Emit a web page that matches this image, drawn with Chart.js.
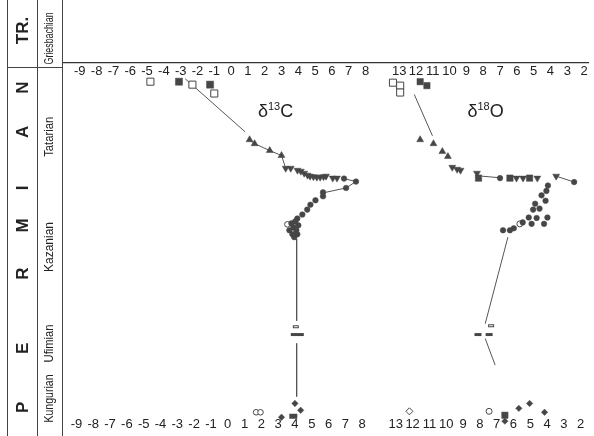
<!DOCTYPE html>
<html lang="en">
<head>
<meta charset="UTF-8">
<title>Permian isotope section</title>
<script src="https://cdn.jsdelivr.net/npm/chart.js"></script>
<style>
    html, body { margin: 0; padding: 0; background: #fff; overflow: hidden; }
    #wrap { width: 594px; height: 436px; }
</style>
</head>
<body>
<div id="wrap"><canvas id="chart"></canvas></div>
<script>
// tick labels of the broken axis: d13C (left part) and d18O (right part, reversed)
var c13Ticks = [-9, -8, -7, -6, -5, -4, -3, -2, -1, 0, 1, 2, 3, 4, 5, 6, 7, 8];
var o18Ticks = [13, 12, 11, 10, 9, 8, 7, 6, 5, 4, 3, 2];

// stratigraphic column (level = position below the top line)
var systemLetters = ['TR.', 'N', 'A', 'I', 'M', 'R', 'E', 'P'];
var systemLevels = [-33, 25, 70, 127, 165, 214, 290, 350];
var stageNames = ['Griesbachian', 'Tatarian', 'Kazanian', 'Ufimian', 'Kungurian'];
var stageLevels = [-25, 75, 187, 285, 341];
var boundaryLevel = 4;

// d13C samples [value, level]
var c13OpenSquare = [[-4.8, 19], [-2.3, 22], [-1.0, 31]];
var c13FilledSquare = [[-3.1, 19], [-1.25, 22]];
var c13Triangle = [[1.1, 78], [1.4, 82], [2.3, 89], [3.0, 94]];
var c13DownTriangle = [[3.25, 107], [3.55, 107], [3.95, 109], [4.15, 110], [4.35, 112], [4.55, 114],
    [4.7, 115], [4.9, 115.5], [5.1, 116], [5.3, 116], [5.5, 115.5], [5.65, 115], [6.05, 117], [6.3, 117]];
var c13Circle = [[6.72, 117.5], [7.43, 120.5], [6.84, 127], [5.47, 131.5], [5.47, 135.5], [5.02, 139.5],
    [4.72, 144], [4.53, 149], [4.24, 154], [3.94, 158], [3.59, 163], [3.82, 161], [4.0, 165], [3.71, 167],
    [3.47, 170], [3.88, 170], [3.65, 174], [3.94, 174], [3.76, 177]];
var c13OpenCircle = [[3.35, 164], [1.49, 355], [1.75, 355]];
var c13OpenBar = [[3.85, 268]];
var c13FilledBar = [[3.94, 276]];
var c13SmallBar = [[3.7, 359]];
var c13Diamond = [[3.8, 346], [4.14, 353], [3.0, 360]];
var c13Lines = [
    [[-2.73, 16], [0.84, 70]],
    [[1.1, 78], [1.4, 82], [2.3, 89], [3.0, 94], [3.25, 107]],
    [[6.72, 117.5], [7.43, 120.5], [6.84, 127], [5.47, 132]],
    [[3.9, 179], [3.9, 262]],
    [[3.9, 285], [3.9, 339]]
];

// d18O samples [value, level]
var o18OpenSquare = [[13.37, 20], [12.94, 23], [12.94, 30]];
var o18FilledSquare = [[11.75, 19], [11.35, 23], [8.28, 117], [6.41, 117], [5.24, 117], [6.71, 358]];
var o18Triangle = [[11.75, 78], [10.96, 82], [10.43, 90], [10.1, 95]];
var o18DownTriangle = [[9.84, 106], [9.55, 108], [9.35, 109], [8.37, 112], [6.02, 117], [5.63, 117],
    [4.78, 117], [3.66, 115]];
var o18Circle = [[7.0, 117], [2.59, 121], [4.15, 124.5], [4.24, 130], [4.53, 134.5], [4.29, 140],
    [4.91, 143], [4.65, 148], [5.03, 149], [5.29, 157], [4.82, 157.5], [4.18, 157], [5.65, 162],
    [5.12, 163.5], [4.38, 163.5], [6.18, 168], [6.82, 170], [6.41, 170]];
var o18OpenCircle = [[5.82, 163.5], [7.65, 354]];
var o18OpenBar = [[7.53, 267]];
var o18FilledBar = [[8.31, 276], [7.65, 276]];
var o18Diamond = [[5.88, 351], [5.24, 346], [4.35, 355], [6.71, 364]];
var o18OpenDiamond = [[12.39, 354]];
var o18Lines = [
    [[12.1, 32], [11.02, 74]],
    [[8.08, 115], [7.1, 116.5]],
    [[3.66, 115], [2.59, 121]],
    [[6.53, 177], [7.88, 265]],
    [[7.88, 280], [7.29, 307]]
];

var ink = '#464646';
var textInk = '#222';
var xMin = -10, xMax = 21.235;

// d18O is drawn right of the break: 13 sits two units after 8
function o18pos(v) { return 23 - v; }

function pts(list, isO) {
    return list.map(function (p) { return {x: isO ? o18pos(p[0]) : p[0], y: p[1]}; });
}

function barImage(w, h, filled) {
    var c = document.createElement('canvas');
    c.width = w + 2; c.height = h + 2;
    var g = c.getContext('2d');
    if (filled) {
        g.fillStyle = ink; g.fillRect(1, 1, w, h);
    } else {
        g.fillStyle = '#fff'; g.fillRect(1, 1, w, h);
        g.strokeStyle = ink; g.lineWidth = 1; g.strokeRect(1.5, 1.5, w - 1, h - 1);
    }
    return c;
}

function marks(list, isO, style, r, open, rot) {
    return {
        data: pts(list, isO),
        pointStyle: style,
        pointRadius: r,
        pointRotation: rot || 0,
        backgroundColor: open ? '#fff' : ink,
        borderColor: ink,
        borderWidth: open ? 1 : 0.5,
        order: 1
    };
}

var openBar = barImage(6, 3, false);
var filledBar = barImage(13, 3, true);
var pairBar = barImage(7, 3, true);
var smallBar = barImage(8, 5, true);

var datasets = [
    marks(c13OpenSquare, false, 'rect', 5, true),
    marks(c13FilledSquare, false, 'rect', 5, false),
    marks(c13Triangle, false, 'triangle', 4, false),
    marks(c13DownTriangle, false, 'triangle', 4, false, 180),
    marks(c13Circle, false, 'circle', 2.8, false),
    marks(c13OpenCircle, false, 'circle', 2.8, true),
    marks(c13OpenBar, false, openBar, 4, true),
    marks(c13FilledBar, false, filledBar, 4, false),
    marks(c13SmallBar, false, smallBar, 4, false),
    marks(c13Diamond, false, 'rectRot', 3.2, false),
    marks(o18OpenSquare, true, 'rect', 5, true),
    marks(o18FilledSquare, true, 'rect', 4.5, false),
    marks(o18Triangle, true, 'triangle', 4, false),
    marks(o18DownTriangle, true, 'triangle', 4, false, 180),
    marks(o18Circle, true, 'circle', 2.8, false),
    marks(o18OpenCircle, true, 'circle', 3, true),
    marks(o18OpenBar, true, openBar, 4, true),
    marks(o18FilledBar, true, pairBar, 4, false),
    marks(o18Diamond, true, 'rectRot', 3.2, false),
    marks(o18OpenDiamond, true, 'rectRot', 3.5, true)
];

c13Lines.forEach(function (line) {
    datasets.push({data: pts(line, false), showLine: true, pointRadius: 0, borderColor: '#555', borderWidth: 1, order: 2});
});
o18Lines.forEach(function (line) {
    datasets.push({data: pts(line, true), showLine: true, pointRadius: 0, borderColor: '#555', borderWidth: 1, order: 2});
});

function setTicks(scale) {
    scale.ticks = c13Ticks.map(function (v) { return {value: v}; })
        .concat(o18Ticks.map(function (v) { return {value: o18pos(v)}; }));
}
function tickLabel(v) { return v > 9 ? String(Math.round(23 - v)) : String(v); }
function noPad(scale) { scale.paddingLeft = 0; scale.paddingRight = 0; }

var tickFont = {family: "'Liberation Sans', Arial, sans-serif", size: 13};

function axis(at, shift, showBorder) {
    return {
        type: 'linear',
        axis: 'x',
        position: {y: at},
        min: xMin + shift,
        max: xMax + shift,
        grid: {display: false, drawTicks: false},
        border: {display: showBorder, color: '#333', width: 1.2},
        ticks: {autoSkip: false, maxRotation: 0, minRotation: 0, padding: 1, color: textInk, font: tickFont, callback: tickLabel},
        afterBuildTicks: setTicks,
        afterFit: noPad
    };
}

function vText(ctx, str, x, y, font, maxLen) {
    ctx.save();
    ctx.translate(x, y);
    ctx.rotate(-Math.PI / 2);
    ctx.font = font;
    var w = ctx.measureText(str).width;
    if (maxLen && w > maxLen) ctx.scale(maxLen / w, 1);
    ctx.textAlign = 'center';
    ctx.textBaseline = 'middle';
    ctx.fillText(str, 0, 0);
    ctx.restore();
}

// stratigraphic column and the two isotope titles
var decor = {
    id: 'decor',
    afterDraw: function (chart) {
        var ctx = chart.ctx, xs = chart.scales.x, ys = chart.scales.y;
        var h = chart.height;
        ctx.save();
        ctx.strokeStyle = '#444';
        ctx.lineWidth = 1;
        [7.5, 37.5, 62.5].forEach(function (x) {
            ctx.beginPath(); ctx.moveTo(x, 0); ctx.lineTo(x, h); ctx.stroke();
        });
        var by = Math.round(ys.getPixelForValue(boundaryLevel)) + 0.5;
        ctx.beginPath(); ctx.moveTo(7.5, by); ctx.lineTo(62.5, by); ctx.stroke();

        ctx.fillStyle = textInk;
        systemLetters.forEach(function (s, i) {
            vText(ctx, s, 23, ys.getPixelForValue(systemLevels[i]), "bold 17px 'Liberation Sans', Arial, sans-serif");
        });
        var stageLen = [52, 40, 50, 38, 48];
        stageNames.forEach(function (s, i) {
            vText(ctx, s, 50, ys.getPixelForValue(stageLevels[i]), "12px 'Liberation Sans', Arial, sans-serif", stageLen[i]);
        });

        var titles = [['13', 'C', 1.6], ['18', 'O', o18pos(8.94)]];
        titles.forEach(function (t) {
            var x = xs.getPixelForValue(t[2]);
            var y = ys.getPixelForValue(55);
            ctx.textAlign = 'left';
            ctx.textBaseline = 'alphabetic';
            ctx.font = "18px 'Liberation Sans', Arial, sans-serif";
            ctx.fillText('\u03b4', x, y);
            x += ctx.measureText('\u03b4').width;
            ctx.font = "11px 'Liberation Sans', Arial, sans-serif";
            ctx.fillText(t[0], x, y - 7);
            x += ctx.measureText(t[0]).width;
            ctx.font = "18px 'Liberation Sans', Arial, sans-serif";
            ctx.fillText(t[1], x, y);
        });
        ctx.restore();
    }
};

new Chart(document.getElementById('chart'), {
    type: 'scatter',
    data: {datasets: datasets},
    options: {
        responsive: true,
        maintainAspectRatio: false,
        animation: false,
        layout: {padding: {left: 63, top: 63, right: 0, bottom: 0}},
        plugins: {legend: {display: false}, tooltip: {enabled: false}},
        scales: {
            y: {type: 'linear', display: false, reverse: true, min: 0, max: 373},
            x: axis(0, 0, true),
            x2: axis(358, 0.2, false)
        }
    },
    plugins: [decor]
});
</script>
</body>
</html>
